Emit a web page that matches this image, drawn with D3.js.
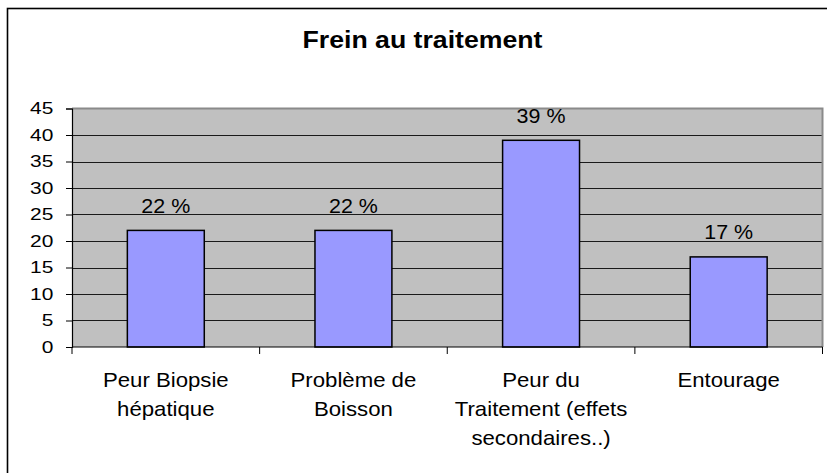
<!DOCTYPE html>
<html>
<head>
<meta charset="utf-8">
<script src="https://cdn.jsdelivr.net/npm/d3@7"></script>
<style>
  html, body { margin: 0; padding: 0; background: #fff; }
  svg { display: block; }
  text { font-family: "Liberation Sans", Arial, sans-serif; fill: #000; }
</style>
</head>
<body>
<svg id="chart" width="827" height="473"></svg>
<script>
// Chart data
const categories = [
  ["Peur Biopsie", "hépatique"],
  ["Problème de", "Boisson"],
  ["Peur du", "Traitement (effets", "secondaires..)"],
  ["Entourage"]
];
const values = [22, 22, 39, 17];
const yTicks = [0, 5, 10, 15, 20, 25, 30, 35, 40, 45];
const title = "Frein au traitement";

const svg = d3.select("#chart");
const W = 827, H = 473;
const plot = { left: 72, right: 822.5, top: 108.5, bottom: 347 };

// Horizontal widening factors for the text (wide-set lettering)
const sTitle = 1.16, sTick = 1.23, sValue = 1.1, sCat = 1.11;

// Outer chart frame
svg.append("rect")
  .attr("x", 7.5).attr("y", 8.5)
  .attr("width", W + 10).attr("height", H + 10)
  .attr("fill", "#fff").attr("stroke", "#000").attr("stroke-width", 1.6);

// Title
svg.append("text")
  .attr("x", 422.5 / sTitle)
  .attr("y", 48.5)
  .attr("transform", `scale(${sTitle},1)`)
  .attr("text-anchor", "middle")
  .attr("font-weight", "bold")
  .attr("font-size", 23)
  .text(title);

const x = d3.scaleBand()
  .domain(d3.range(categories.length))
  .range([plot.left, plot.right])
  .paddingInner(0.59)
  .paddingOuter(0.295);

const xCat = d3.scaleBand()
  .domain(d3.range(categories.length))
  .range([plot.left, plot.right]);

const y = d3.scaleLinear().domain([0, 45]).range([plot.bottom, plot.top]);

// Plot background
svg.append("rect")
  .attr("x", plot.left).attr("y", plot.top)
  .attr("width", plot.right - plot.left).attr("height", plot.bottom - plot.top)
  .attr("fill", "#c0c0c0");

// Gridlines
svg.append("g")
  .selectAll("line")
  .data(yTicks.filter(d => d > 0 && d < 45))
  .join("line")
  .attr("x1", plot.left).attr("x2", plot.right)
  .attr("y1", d => Math.round(y(d)) + 0.5).attr("y2", d => Math.round(y(d)) + 0.5)
  .attr("stroke", "#1a1a1a").attr("stroke-width", 1.1);

// Plot frame (top and right edges)
svg.append("path")
  .attr("d", `M${plot.left},${plot.top}H${plot.right}V${plot.bottom}`)
  .attr("fill", "none").attr("stroke", "#8a8a8a").attr("stroke-width", 2);

// Bars
svg.append("g")
  .selectAll("rect")
  .data(values)
  .join("rect")
  .attr("x", (d, i) => x(i))
  .attr("y", d => y(d))
  .attr("width", x.bandwidth())
  .attr("height", d => y(0) - y(d))
  .attr("fill", "#9999ff")
  .attr("stroke", "#000")
  .attr("stroke-width", 1.5);

// Value labels
svg.append("g")
  .selectAll("text")
  .data(values)
  .join("text")
  .attr("x", (d, i) => (x(i) + x.bandwidth() / 2) / sValue)
  .attr("y", d => y(d) - 17.5)
  .attr("transform", `scale(${sValue},1)`)
  .attr("text-anchor", "middle")
  .attr("font-size", 19.5)
  .text(d => `${d} %`);

// Y axis
const yAxis = d3.axisLeft(y).tickValues(yTicks).tickSize(6).tickPadding(12.7);
const gy = svg.append("g").attr("transform", `translate(${plot.left},0)`).call(yAxis);
gy.select(".domain").attr("stroke", "#000").attr("stroke-width", 1.2);
gy.selectAll(".tick line").attr("stroke", "#000");
gy.selectAll(".tick text")
  .attr("font-size", 17)
  .attr("font-family", "Liberation Sans, Arial, sans-serif")
  .attr("fill", "#000")
  .attr("dy", "0.3em")
  .attr("x", -18.7 / sTick)
  .attr("transform", `scale(${sTick},1)`);

// X axis with ticks at category boundaries
const gx = svg.append("g");
gx.append("line")
  .attr("x1", plot.left).attr("x2", plot.right)
  .attr("y1", plot.bottom).attr("y2", plot.bottom)
  .attr("stroke", "#000").attr("stroke-width", 1.2);
gx.selectAll("line.tk")
  .data(d3.range(categories.length + 1))
  .join("line")
  .attr("class", "tk")
  .attr("x1", i => i < categories.length ? xCat(i) : plot.right)
  .attr("x2", i => i < categories.length ? xCat(i) : plot.right)
  .attr("y1", plot.bottom).attr("y2", plot.bottom + 7)
  .attr("stroke", "#000");

// Category labels
gx.selectAll("text")
  .data(categories)
  .join("text")
  .attr("text-anchor", "middle")
  .attr("font-size", 20)
  .attr("transform", `scale(${sCat},1)`)
  .each(function(lines, i) {
    const cx = xCat(i) + xCat.bandwidth() / 2;
    d3.select(this).selectAll("tspan")
      .data(lines)
      .join("tspan")
      .attr("x", cx / sCat)
      .attr("y", (l, j) => 387 + j * 29)
      .text(l => l);
  });
</script>
</body>
</html>
